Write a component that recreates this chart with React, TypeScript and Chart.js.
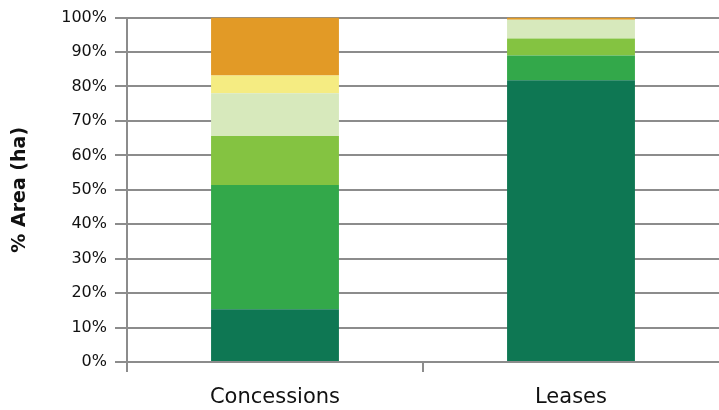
import React, { useEffect, useRef } from "react";
import { Chart, registerables } from "chart.js";

Chart.register(...registerables);

// Share of area (ha) by land class, stacked bottom to top
const categories = ["Concessions", "Leases"];
const classDarkGreen = [15.3, 81.8];
const classGreen = [36.1, 7.2];
const classLightGreen = [14.2, 4.9];
const classPaleGreen = [12.4, 5.5];
const classYellow = [5.2, 0];
const classOrange = [16.8, 0.6];

const seriesColors = ["#0e7753", "#33a84a", "#84c341", "#d7e9bc", "#f5ec82", "#e29a26"];
const yTickLabels = ["0%", "10%", "20%", "30%", "40%", "50%", "60%", "70%", "80%", "90%", "100%"];

const FONT = "'DejaVu Sans', Verdana, sans-serif";
const AXIS_GREY = "#8c8c8c";

export default function App() {
  const canvasRef = useRef<HTMLCanvasElement | null>(null);

  useEffect(() => {
    const canvas = canvasRef.current;
    if (!canvas) return;
    const series = [classDarkGreen, classGreen, classLightGreen, classPaleGreen, classYellow, classOrange];
    const chart = new Chart(canvas, {
      type: "bar",
      data: {
        labels: categories,
        datasets: series.map((values, i) => ({
          label: `class ${i + 1}`,
          data: values,
          backgroundColor: seriesColors[i],
          borderWidth: 0,
          categoryPercentage: 1,
          barPercentage: 0.432,
        })),
      },
      options: {
        animation: false,
        responsive: false,
        maintainAspectRatio: false,
        layout: { padding: { top: 16, right: 0, bottom: 0, left: 0 } },
        plugins: {
          legend: { display: false },
          tooltip: { enabled: false },
        },
        scales: {
          x: {
            stacked: true,
            offset: true,
            border: { display: true, color: AXIS_GREY, width: 2 },
            grid: {
              offset: true,
              drawOnChartArea: false,
              drawTicks: true,
              tickLength: 10,
              // the closing tick mark at the far right edge is left out
              color: (ctx: any) =>
                ctx.type === "tick" && ctx.index < categories.length ? AXIS_GREY : "rgba(0,0,0,0)",
              lineWidth: 2,
            },
            ticks: {
              color: "#111111",
              font: { family: FONT, size: 21 },
              padding: 13,
            },
            afterFit: (scale: any) => {
              scale.height = 48;
            },
          },
          y: {
            stacked: true,
            min: 0,
            max: 100,
            border: { display: true, color: AXIS_GREY, width: 2 },
            grid: {
              color: AXIS_GREY,
              lineWidth: 2,
              drawTicks: true,
              tickLength: 12,
            },
            ticks: {
              stepSize: 10,
              color: "#111111",
              font: { family: FONT, size: 16 },
              padding: 8,
              callback: (_v: any, i: number) => yTickLabels[i],
            },
            title: {
              display: true,
              text: "% Area (ha)",
              color: "#111111",
              font: { family: FONT, size: 19, weight: "bold" },
              padding: { top: 9, bottom: 0 },
            },
            afterFit: (scale: any) => {
              scale.width = 127;
            },
          },
        },
      },
    });
    return () => chart.destroy();
  }, []);

  return (
    <div style={{ position: "fixed", left: 0, top: 0, width: 719, height: 410, background: "#ffffff" }}>
      <canvas ref={canvasRef} width={719} height={410} style={{ width: 719, height: 410, display: "block" }} />
    </div>
  );
}
